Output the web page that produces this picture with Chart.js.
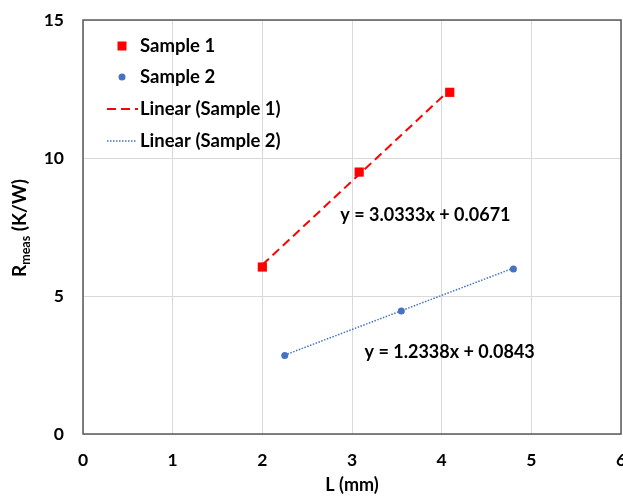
<!DOCTYPE html>
<html>
<head>
<meta charset="utf-8">
<title>Rmeas vs L</title>
<script src="https://cdn.jsdelivr.net/npm/chart.js@4.4.1/dist/chart.umd.min.js"></script>
<style>
  html, body { margin: 0; padding: 0; background: #fff; overflow: hidden; }
  #wrap { width: 623px; height: 499px; }
</style>
</head>
<body>
<div id="wrap"><canvas id="myChart" width="623" height="499"></canvas></div>
<script>
'use strict';

// ======= data =======

var sample1X = [2.0, 3.08, 4.09];
var sample1Y = [6.05, 9.49, 12.38];

var sample2X = [2.25, 3.55, 4.80];
var sample2Y = [2.84, 4.46, 5.98];

// trendline end points
var trend1X = [2.0, 4.09];
var trend1Y = [6.13, 12.47];
var trend2X = [2.25, 4.80];
var trend2Y = [2.86, 6.01];

var seriesNames = ['Sample 1', 'Sample 2', 'Linear (Sample 1)', 'Linear (Sample 2)'];
var equations = ['y = 3.0333x + 0.0671', 'y = 1.2338x + 0.0843'];
// where each equation label starts, in data units
var equationAt = [[2.87, 7.93], [3.14, 2.97]];

var xTicks = [0, 1, 2, 3, 4, 5, 6];
var yTicks = [0, 5, 10, 15];

// ======= end data =======

var FONT = 'Lato, "Open Sans", sans-serif';
var RED = '#ff0000';
var BLUE = '#4472c4';

function toPoints(xs, ys) {
  var pts = [];
  for (var i = 0; i < xs.length; i++) {
    pts.push({ x: xs[i], y: ys[i] });
  }
  return pts;
}

// box, legend, equations and the y title with its subscript
var extrasPlugin = {
  id: 'extras',
  afterDraw: function (chart) {
    var ctx = chart.ctx;
    var area = chart.chartArea;
    var xs = chart.scales.x;
    var ys = chart.scales.y;

    ctx.save();
    ctx.strokeStyle = '#595959';
    ctx.lineWidth = 1.5;
    ctx.strokeRect(area.left, area.top, area.right - area.left, area.bottom - area.top);

    // legend
    ctx.font = 'bold 18.5px ' + FONT;
    ctx.fillStyle = '#000';
    ctx.textBaseline = 'middle';
    ctx.textAlign = 'left';
    var rowY = [46, 77, 109, 141];
    var textX = 140;
    var markX = 122;

    ctx.fillStyle = RED;
    ctx.fillRect(markX - 4.5, rowY[0] - 4.5, 9, 9);
    ctx.fillStyle = BLUE;
    ctx.beginPath();
    ctx.arc(markX, rowY[1], 3.5, 0, Math.PI * 2);
    ctx.fill();

    ctx.strokeStyle = RED;
    ctx.lineWidth = 2;
    ctx.setLineDash([9, 5]);
    ctx.beginPath();
    ctx.moveTo(107, rowY[2]);
    ctx.lineTo(138, rowY[2]);
    ctx.stroke();

    ctx.strokeStyle = BLUE;
    ctx.lineWidth = 1.5;
    ctx.setLineDash([1.5, 1.5]);
    ctx.beginPath();
    ctx.moveTo(107, rowY[3]);
    ctx.lineTo(137, rowY[3]);
    ctx.stroke();
    ctx.setLineDash([]);

    ctx.fillStyle = '#000';
    for (var i = 0; i < seriesNames.length; i++) {
      ctx.fillText(seriesNames[i], textX, rowY[i]);
    }

    // equations
    ctx.font = 'bold 18px ' + FONT;
    for (var j = 0; j < equations.length; j++) {
      ctx.fillText(equations[j], xs.getPixelForValue(equationAt[j][0]), ys.getPixelForValue(equationAt[j][1]));
    }

    // y axis title, R with subscript "meas"
    ctx.translate(20, 228);
    ctx.rotate(-Math.PI / 2);
    var bigFont = 'bold 19px ' + FONT;
    var subFont = 'bold 12.5px ' + FONT;
    ctx.font = bigFont;
    var wR = ctx.measureText('R').width;
    var wRest = ctx.measureText(' (K/W)').width;
    ctx.font = subFont;
    var wSub = ctx.measureText('meas').width;
    var total = wR + wSub + wRest;
    var x0 = -total / 2;
    ctx.font = bigFont;
    ctx.fillText('R', x0, 0);
    ctx.font = subFont;
    ctx.fillText('meas', x0 + wR, 6);
    ctx.font = bigFont;
    ctx.fillText(' (K/W)', x0 + wR + wSub, 0);
    ctx.restore();
  }
};

// ======= ChartJS =======

function displayChart() {
  var ctx = document.getElementById('myChart').getContext('2d');
  var chart = new Chart(ctx, {
    type: 'scatter',
    data: {
      datasets: [{
        label: seriesNames[0],
        data: toPoints(sample1X, sample1Y),
        pointStyle: 'rect',
        pointRadius: 6.5,
        backgroundColor: RED,
        borderColor: RED,
        borderWidth: 0,
        order: 1
      },
      {
        label: seriesNames[1],
        data: toPoints(sample2X, sample2Y),
        pointStyle: 'circle',
        pointRadius: 3.5,
        backgroundColor: BLUE,
        borderColor: BLUE,
        borderWidth: 0,
        order: 1
      },
      {
        label: seriesNames[2],
        data: toPoints(trend1X, trend1Y),
        showLine: true,
        pointRadius: 0,
        borderColor: RED,
        borderWidth: 2,
        borderDash: [9, 5],
        order: 2
      },
      {
        label: seriesNames[3],
        data: toPoints(trend2X, trend2Y),
        showLine: true,
        pointRadius: 0,
        borderColor: BLUE,
        borderWidth: 1.5,
        borderDash: [1.5, 1.5],
        order: 2
      }]
    },
    options: {
      responsive: false,
      animation: false,
      layout: { autoPadding: false, padding: { top: 20, right: 2, left: 0, bottom: 0 } },
      plugins: {
        legend: { display: false },
        tooltip: { enabled: false }
      },
      scales: {
        x: {
          type: 'linear',
          min: 0,
          max: 6,
          afterBuildTicks: function (scale) {
            scale.ticks = xTicks.map(function (v) { return { value: v }; });
          },
          afterFit: function (scale) {
            scale.height = 65;
            scale.paddingLeft = 0;
            scale.paddingRight = 0;
          },
          grid: { color: '#d9d9d9', lineWidth: 1, drawTicks: false },
          border: { display: false },
          ticks: {
            color: '#000',
            padding: 16,
            maxRotation: 0,
            font: { family: FONT, size: 17.5, weight: 'bold' }
          },
          title: {
            display: true,
            text: 'L (mm)',
            color: '#000',
            padding: { top: 0, bottom: 3 },
            font: { family: FONT, size: 18, weight: 'bold' }
          }
        },
        y: {
          type: 'linear',
          min: 0,
          max: 15,
          afterBuildTicks: function (scale) {
            scale.ticks = yTicks.map(function (v) { return { value: v }; });
          },
          afterFit: function (scale) {
            scale.width = 83;
            scale.paddingTop = 0;
            scale.paddingBottom = 0;
          },
          grid: { color: '#d9d9d9', lineWidth: 1, drawTicks: false },
          border: { display: false },
          ticks: {
            color: '#000',
            padding: 19,
            font: { family: FONT, size: 17.5, weight: 'bold' }
          }
        }
      }
    },
    plugins: [extrasPlugin]
  });
  return chart;
}

displayChart();
</script>
</body>
</html>
